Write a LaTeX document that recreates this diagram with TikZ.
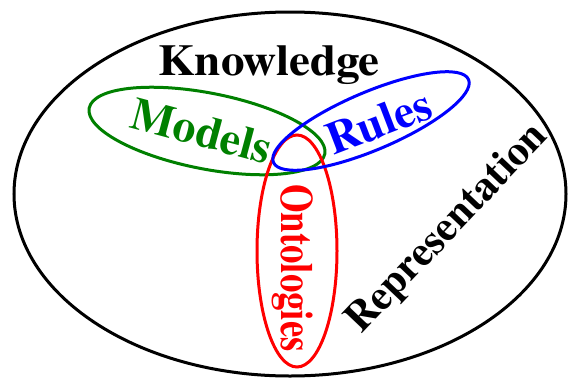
\documentclass[tikz,border=0pt]{standalone}
\usepackage{fontspec}
\setmainfont{texgyretermes}[Extension=.otf, UprightFont=*-regular, BoldFont=*-bold]
\begin{document}
\begin{tikzpicture}[x=1pt,y=-1pt,
  lbl/.style={font=\fontsize{46}{50}\selectfont\bfseries, inner sep=0pt},
  ring/.style={line width=3pt}]
\definecolor{dkgreen}{RGB}{0,128,0}
\useasboundingbox (0,0) rectangle (568,378);
\draw[ring, black] (290,194) ellipse [x radius=276, y radius=182];
\draw[ring, dkgreen, rotate around={-11:(207,131)}] (207,131) ellipse [x radius=120, y radius=38];
\draw[ring, red] (297,251) ellipse [x radius=40, y radius=116];
\draw[ring, blue, rotate around={23:(371,121)}] (371,121) ellipse [x radius=106, y radius=29];
\node[lbl, font=\fontsize{44}{48}\selectfont\bfseries, anchor=base] (know) at (269,75) {\scalebox{1.07}[1]{Knowledge}};
\node[lbl, dkgreen, rotate=-15] (models) at (202,131) {Models};
\node[lbl, blue, rotate=21] (rules) at (379,122) {Rules};
\node[lbl, red, rotate=-90] (onto) at (293,268) {\scalebox{0.8}[1]{Ontologies}};
\node[lbl, font=\fontsize{42}{46}\selectfont\bfseries, black, rotate=46.5] (repr) at (448,229) {Representation};
\end{tikzpicture}
\end{document}
